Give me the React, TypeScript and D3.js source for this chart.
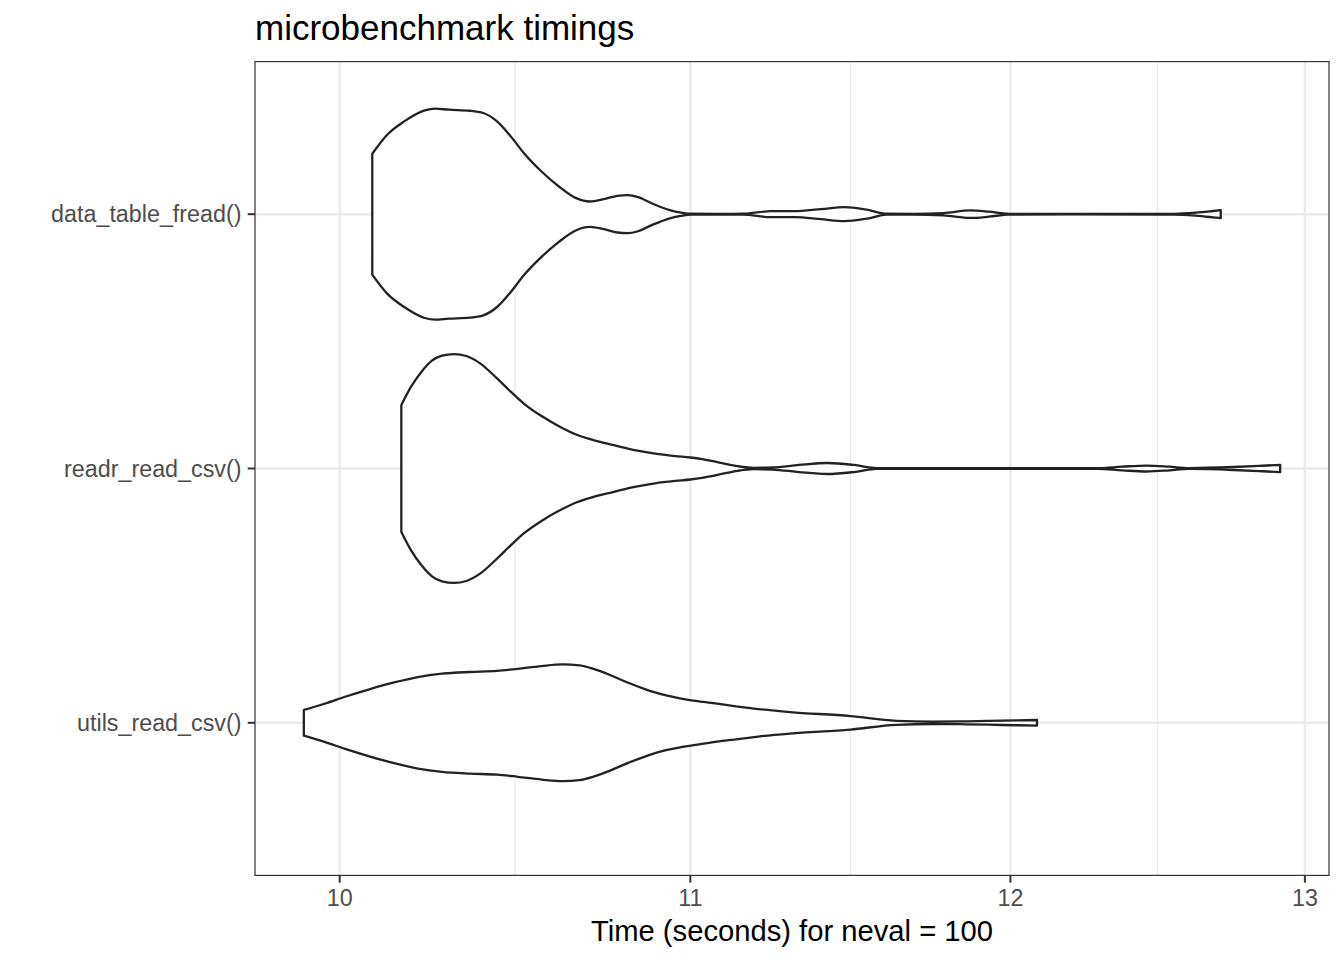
import React from "react";
import * as d3 from "d3";

// ---- data ----
const categories = ["data_table_fread()", "readr_read_csv()", "utils_read_csv()"];
const xTicks = [10, 11, 12, 13];
const titleText = "microbenchmark timings";
const xTitle = "Time (seconds) for neval = 100";

// violin outlines: time (s) and violin width as a fraction of the widest violin
const dataTableTime = [10.089, 10.130, 10.177, 10.234, 10.263, 10.301, 10.360, 10.398, 10.437, 10.476, 10.515, 10.564, 10.614, 10.664, 10.704, 10.744, 10.784, 10.814, 10.845, 10.885, 10.936, 10.977, 11.0, 11.08, 11.16, 11.243, 11.315, 11.398, 11.470, 11.541, 11.604, 11.686, 11.783, 11.870, 11.93, 11.995, 12.2, 12.547, 12.62, 12.68, 12.706];
const dataTableWidth = [0.528, 0.694, 0.811, 0.907, 0.922, 0.913, 0.904, 0.884, 0.811, 0.680, 0.528, 0.373, 0.242, 0.140, 0.111, 0.131, 0.160, 0.166, 0.149, 0.096, 0.038, 0.012, 0.004, 0.003, 0.004, 0.026, 0.026, 0.044, 0.061, 0.039, 0.004, 0.003, 0.010, 0.033, 0.022, 0.0035, 0.002, 0.003, 0.013, 0.028, 0.035];

const readrTime = [10.169, 10.196, 10.225, 10.254, 10.282, 10.316, 10.350, 10.389, 10.437, 10.476, 10.515, 10.564, 10.614, 10.664, 10.714, 10.774, 10.835, 10.895, 10.956, 11.0, 11.040, 11.091, 11.143, 11.192, 11.249, 11.33, 11.418, 11.50, 11.572, 11.8, 12.286, 12.37, 12.452, 12.53, 12.596, 12.75, 12.85, 12.913];
const readrWidth = [0.554, 0.715, 0.846, 0.942, 0.986, 1.0, 0.983, 0.919, 0.787, 0.671, 0.563, 0.458, 0.370, 0.297, 0.248, 0.204, 0.160, 0.129, 0.108, 0.096, 0.079, 0.050, 0.020, 0.006, 0.009, 0.031, 0.048, 0.031, 0.004, 0.002, 0.003, 0.016, 0.026, 0.016, 0.004, 0.013, 0.024, 0.032];

const utilsTime = [9.903, 9.961, 10.017, 10.083, 10.149, 10.215, 10.282, 10.360, 10.437, 10.496, 10.564, 10.624, 10.674, 10.714, 10.764, 10.814, 10.865, 10.916, 10.977, 11.040, 11.122, 11.206, 11.302, 11.489, 11.633, 11.749, 11.858, 11.972, 12.087];
const utilsWidth = [0.112, 0.169, 0.230, 0.295, 0.353, 0.400, 0.429, 0.444, 0.453, 0.472, 0.496, 0.510, 0.501, 0.471, 0.416, 0.352, 0.295, 0.248, 0.210, 0.182, 0.150, 0.120, 0.094, 0.059, 0.0175, 0.0105, 0.013, 0.019, 0.0245];

const seriesTimes = [dataTableTime, readrTime, utilsTime];
const seriesWidths = [dataTableWidth, readrWidth, utilsWidth];

// ---- layout ----
const W = 1344;
const H = 960;
const panel = { left: 255, right: 1329, top: 61.6, bottom: 875.4 };
const FONT = "'Liberation Sans', Arial, Helvetica, sans-serif";

export default function App() {
  const allTimes = seriesTimes.flat();
  const lMin = Math.log10(d3.min(allTimes) as number);
  const lMax = Math.log10(d3.max(allTimes) as number);
  const pad = (lMax - lMin) * 0.05;
  const x = d3
    .scaleLog()
    .domain([Math.pow(10, lMin - pad), Math.pow(10, lMax + pad)])
    .range([panel.left, panel.right]);

  const y = d3
    .scalePoint<string>()
    .domain(categories)
    .range([panel.top, panel.bottom])
    .padding(0.6);
  const step = y.step();
  const wScale = d3.scaleLinear().domain([0, 1]).range([0, 0.45 * step]);

  // minor breaks: midpoints of major breaks in log space
  const logs = xTicks.map((t) => Math.log10(t));
  const minor: number[] = [];
  for (let i = 0; i < logs.length - 1; i++) minor.push(Math.pow(10, (logs[i] + logs[i + 1]) / 2));

  const violins = categories.map((cat, i) => {
    const cy = y(cat) as number;
    const pts = seriesTimes[i].map((t, j) => ({ t, w: seriesWidths[i][j] }));
    const area = d3
      .area<{ t: number; w: number }>()
      .x((d) => x(d.t))
      .y0((d) => cy + wScale(d.w))
      .y1((d) => cy - wScale(d.w))
      .curve(d3.curveMonotoneX);
    return area(pts) as string;
  });

  const grey92 = "#EBEBEB";
  const grey20 = "#333333";

  return (
    <svg
      width={W}
      height={H}
      style={{ position: "absolute", left: 0, top: 0, background: "#fff" }}
      fontFamily={FONT}
    >
      <rect x={0} y={0} width={W} height={H} fill="#fff" />
      <defs>
        <clipPath id="panelClip">
          <rect x={panel.left} y={panel.top} width={panel.right - panel.left} height={panel.bottom - panel.top} />
        </clipPath>
      </defs>
      <g clipPath="url(#panelClip)">
        {minor.map((m) => (
          <line key={"mn" + m} x1={x(m)} x2={x(m)} y1={panel.top} y2={panel.bottom} stroke={grey92} strokeWidth={1.3} />
        ))}
        {xTicks.map((t) => (
          <line key={"mj" + t} x1={x(t)} x2={x(t)} y1={panel.top} y2={panel.bottom} stroke={grey92} strokeWidth={2.4} />
        ))}
        {categories.map((c) => (
          <line key={"h" + c} x1={panel.left} x2={panel.right} y1={y(c)} y2={y(c)} stroke={grey92} strokeWidth={2.4} />
        ))}
        {violins.map((d, i) => (
          <path key={"v" + i} d={d} fill="#fff" stroke="#222222" strokeWidth={2.3} strokeLinejoin="round" />
        ))}
      </g>
      <rect
        x={panel.left}
        y={panel.top}
        width={panel.right - panel.left}
        height={panel.bottom - panel.top}
        fill="none"
        stroke={grey20}
        strokeWidth={1.2}
      />
      {/* x axis ticks & labels */}
      {xTicks.map((t) => (
        <g key={"xt" + t}>
          <line x1={x(t)} x2={x(t)} y1={panel.bottom} y2={panel.bottom + 7.3} stroke={grey20} strokeWidth={2} />
          <text x={x(t)} y={906} textAnchor="middle" fontSize={23.3} fill="#4D4D4D">
            {t}
          </text>
        </g>
      ))}
      {/* y axis ticks & labels */}
      {categories.map((c) => (
        <g key={"yt" + c}>
          <line x1={panel.left - 7.3} x2={panel.left} y1={y(c)} y2={y(c)} stroke={grey20} strokeWidth={2} />
          <text x={panel.left - 13.5} y={(y(c) as number) + 8.3} textAnchor="end" fontSize={23.3} fill="#4D4D4D">
            {c}
          </text>
        </g>
      ))}
      <text x={(panel.left + panel.right) / 2} y={941} textAnchor="middle" fontSize={29.2} fill="#000">
        {xTitle}
      </text>
      <text x={panel.left} y={40} textAnchor="start" fontSize={35} fill="#000">
        {titleText}
      </text>
    </svg>
  );
}
